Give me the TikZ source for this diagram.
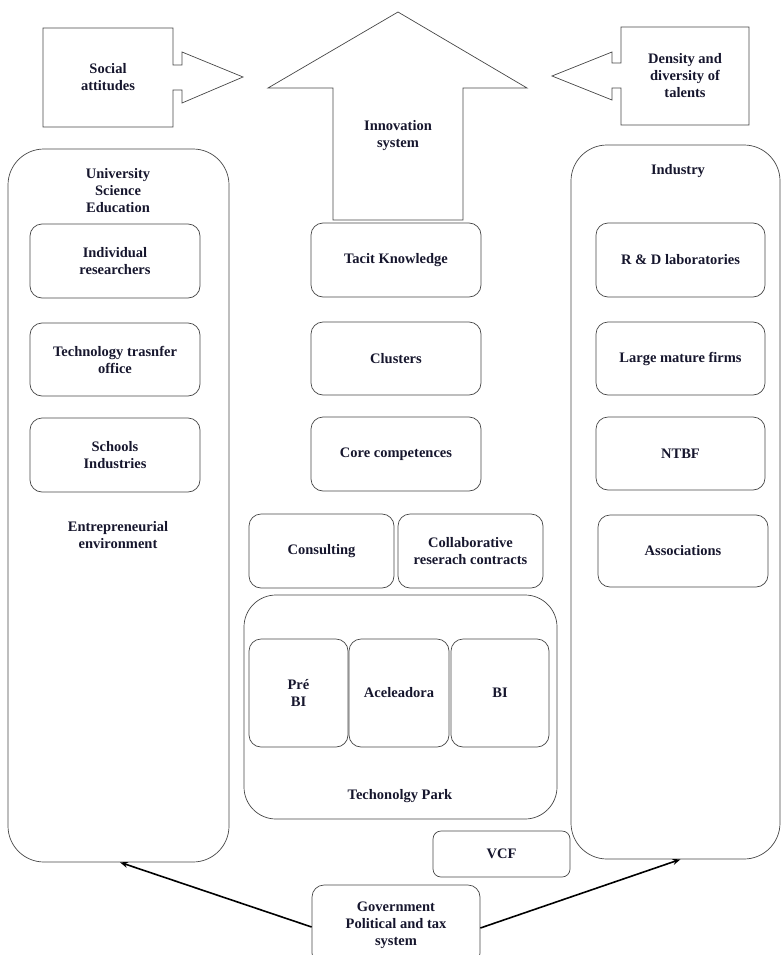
\documentclass[tikz,border=0pt]{standalone}
\usepackage{fontspec}
\setmainfont{Liberation Serif}
\usetikzlibrary{arrows.meta}
\definecolor{txt}{RGB}{22,22,45}
\definecolor{edge}{RGB}{70,70,70}
\begin{document}
\begin{tikzpicture}[x=1pt,y=-1pt,
  every node/.style={font=\bfseries\fontsize{14.5}{17}\selectfont, text=txt, align=center, inner sep=0pt},
  box/.style={draw=edge, line width=0.7pt, rounded corners=12pt},
  bigbox/.style={draw=edge, line width=0.7pt, rounded corners=36pt},
  outline/.style={draw=edge, line width=0.7pt, line join=miter},
  conn/.style={line width=1.6pt, draw=black, -{Stealth[length=8pt,width=6pt]}}]
\useasboundingbox (0,0) rectangle (781,955);

% top callouts
\draw[outline] (43,28) -- (173,28) -- (173,65) -- (182,65) -- (182,52) -- (243,77)
  -- (182,103) -- (182,90) -- (173,90) -- (173,127) -- (43,127) -- cycle;
\node (social) at (108,77) {Social\\attitudes};

\draw[outline] (749,27) -- (621,27) -- (621,63) -- (612,63) -- (612,52) -- (552,76)
  -- (612,100) -- (612,88) -- (621,88) -- (621,125) -- (749,125) -- cycle;
\node (density) at (685,76) {Density and\\diversity of\\talents};

\draw[outline] (333,220) -- (333,88) -- (268,88) -- (398,12) -- (527,88) -- (463,88) -- (463,220) -- cycle;
\node (innov) at (398,136) {Innovation\\system};

% big columns
\node[bigbox, minimum width=221pt, minimum height=713pt] (univ) at (118.5,505.5) {};
\node (univlab) at (118,191) {University\\Science\\Education};
\node[bigbox, minimum width=209pt, minimum height=714pt] (ind) at (675.5,502) {};
\node (indlab) at (678,171) {Industry};

% left column
\node[box, minimum width=170pt, minimum height=74pt] (indiv) at (115,261) {Individual\\researchers};
\node[box, minimum width=170pt, minimum height=73pt] (tto) at (115,359.5) {Technology trasnfer\\office};
\node[box, minimum width=170pt, minimum height=74pt] (schools) at (115,455) {Schools\\Industries};
\node (entre) at (118,535) {Entrepreneurial\\environment};

% middle column
\node[box, minimum width=170pt, minimum height=74pt] (tacit) at (396,260) {Tacit Knowledge};
\node[box, minimum width=170pt, minimum height=73pt] (clusters) at (396,358.5) {Clusters};
\node[box, minimum width=170pt, minimum height=74pt] (core) at (396,454) {Core competences};
\node[box, minimum width=145pt, minimum height=74pt] (consult) at (321.5,551) {Consulting};
\node[box, minimum width=145pt, minimum height=74pt] (collab) at (470.5,551) {Collaborative\\reserach contracts};

% technology park
\node[box, rounded corners=32pt, minimum width=313pt, minimum height=224pt] (park) at (400.5,707) {};
\node[box, minimum width=99pt, minimum height=108pt] (prebi) at (298.5,693) {Pré\\BI};
\node[box, minimum width=100pt, minimum height=108pt] (acel) at (399,693) {Aceleadora};
\node[box, minimum width=98pt, minimum height=108pt] (bi) at (500,693) {BI};
\node (parklab) at (400,796) {Techonolgy Park};

\node[box, rounded corners=8pt, minimum width=137pt, minimum height=46pt] (vcf) at (501.5,854) {VCF};

% right column
\node[box, minimum width=169pt, minimum height=74pt] (rd) at (680.5,260) {R \& D laboratories};
\node[box, minimum width=169pt, minimum height=73pt] (large) at (680.5,358.5) {Large mature firms};
\node[box, minimum width=169pt, minimum height=73pt] (ntbf) at (680.5,453.5) {NTBF};
\node[box, minimum width=170pt, minimum height=72pt] (assoc) at (683,551) {Associations};

% government
\node[box, minimum width=168pt, minimum height=80pt] (gov) at (396,925) {Government\\Political and tax\\system};

\draw[conn] ([yshift=-2pt]gov.west) -- ([xshift=1.5pt]univ.south);
\draw[conn] ([yshift=-3pt]gov.east) -- ([xshift=5pt]ind.south);
\end{tikzpicture}
\end{document}
